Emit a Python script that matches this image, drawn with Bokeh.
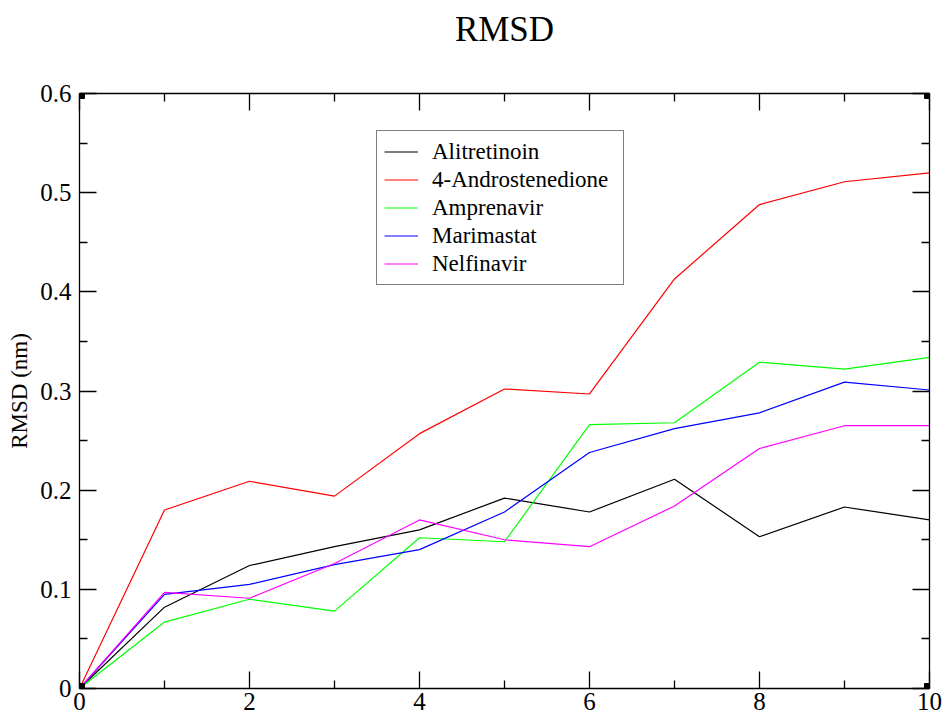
from bokeh.plotting import figure
from bokeh.models import (LinearAxis, FixedTicker, CustomJSTickFormatter, Legend, LegendItem,
                          ColumnDataSource, Range1d, Title)
from bokeh.embed import file_html
from bokeh.resources import INLINE

time_ns = [0, 1, 2, 3, 4, 5, 6, 7, 8, 9, 10]
alitretinoin = [0.0, 0.082, 0.124, 0.143, 0.160, 0.192, 0.178, 0.211, 0.153, 0.183, 0.170]
androstenedione = [0.0, 0.180, 0.209, 0.194, 0.257, 0.302, 0.297, 0.413, 0.488, 0.511, 0.520]
amprenavir = [0.0, 0.067, 0.090, 0.078, 0.152, 0.148, 0.266, 0.268, 0.329, 0.322, 0.334]
marimastat = [0.0, 0.095, 0.105, 0.125, 0.140, 0.178, 0.238, 0.262, 0.278, 0.309, 0.301]
nelfinavir = [0.0, 0.097, 0.091, 0.126, 0.170, 0.150, 0.143, 0.184, 0.242, 0.265, 0.265]

names = ["Alitretinoin", "4-Androstenedione", "Amprenavir", "Marimastat", "Nelfinavir"]
colors = ["#000000", "#ff0000", "#00ff00", "#0000ff", "#ff00ff"]
series = [alitretinoin, androstenedione, amprenavir, marimastat, nelfinavir]

x_major = [0, 2, 4, 6, 8, 10]
x_minor = [1, 3, 5, 7, 9]
y_major = [0.0, 0.1, 0.2, 0.3, 0.4, 0.5, 0.6]
y_minor = [0.05, 0.15, 0.25, 0.35, 0.45, 0.55]
corner_x = [0, 0, 10, 10]
corner_y = [0, 0.6, 0.6, 0]
title_text = "RMSD"

FONT = "Liberation Serif"

p = figure(width=943, height=713, output_backend="svg", toolbar_location=None,
           x_range=Range1d(0, 10), y_range=Range1d(0, 0.6),
           x_axis_type=None, y_axis_type=None,
           min_border_left=79, min_border_right=14, min_border_top=93, min_border_bottom=25)
p.background_fill_color = "white"
p.border_fill_color = "white"
p.outline_line_color = None
p.xgrid.visible = False
p.ygrid.visible = False

fmt = CustomJSTickFormatter(code="var s = tick.toFixed(1); return s.replace(/\\.0$/, '');")
blank = CustomJSTickFormatter(code="return '';")

def style_axis(ax):
    ax.axis_line_color = "#000000"
    ax.axis_line_width = 1.3
    ax.major_tick_line_color = "#000000"
    ax.minor_tick_line_color = "#000000"
    ax.major_tick_line_width = 1.3
    ax.minor_tick_line_width = 1.3
    ax.major_tick_in = 17
    ax.major_tick_out = 0
    ax.minor_tick_in = 8
    ax.minor_tick_out = 0
    ax.major_label_text_font = FONT
    ax.major_label_text_font_size = "25px"
    ax.major_label_text_color = "#000000"
    ax.axis_label_text_font = FONT
    ax.axis_label_text_font_style = "normal"
    ax.axis_label_text_color = "#000000"

xt = FixedTicker(ticks=x_major, minor_ticks=x_minor)
yt = FixedTicker(ticks=y_major, minor_ticks=y_minor)

xb = LinearAxis(ticker=xt, formatter=fmt)
style_axis(xb)
xb.major_label_standoff = 4
p.add_layout(xb, "below")

xa = LinearAxis(ticker=xt, formatter=blank)
style_axis(xa)
xa.major_label_standoff = 0
p.add_layout(xa, "above")

# invisible spacer between the top axis and the title
spacer = LinearAxis(ticker=FixedTicker(ticks=x_major, minor_ticks=[]), formatter=blank)
spacer.axis_line_color = None
spacer.major_tick_line_color = None
spacer.minor_tick_line_color = None
spacer.major_tick_in = 0
spacer.major_tick_out = 40
spacer.minor_tick_in = 0
spacer.minor_tick_out = 0
spacer.major_label_standoff = 0
p.add_layout(spacer, "above")

t = Title(text=title_text, align="center", text_font=FONT,
          text_font_size="35px", text_font_style="normal", text_color="#000000", standoff=10)
p.add_layout(t, "above")

yl = LinearAxis(ticker=yt, formatter=fmt, axis_label="RMSD (nm)")
style_axis(yl)
yl.major_label_standoff = 8
yl.axis_label_text_font_size = "23px"
yl.axis_label_standoff = 5
p.add_layout(yl, "left")

yr = LinearAxis(ticker=yt, formatter=blank)
style_axis(yr)
yr.major_label_standoff = 0
p.add_layout(yr, "right")

items = []
for name, col, ys in zip(names, colors, series):
    src = ColumnDataSource(dict(x=time_ns, y=ys))
    r = p.line("x", "y", source=src, line_color=col, line_width=1.2)
    items.append(LegendItem(label=name, renderers=[r]))

p.scatter(corner_x, corner_y, marker="square", size=10, fill_color="black", line_color="black")

legend = Legend(items=items, location=(297, 403), orientation="vertical")
legend.label_text_font = FONT
legend.label_text_font_size = "23px"
legend.label_text_color = "#000000"
legend.glyph_width = 34
legend.glyph_height = 27
legend.label_height = 27
legend.label_width = 184
legend.label_standoff = 14
legend.spacing = 1
legend.padding = 7
legend.margin = 0
legend.border_line_color = "#000000"
legend.border_line_width = 1.3
legend.background_fill_color = "white"
legend.background_fill_alpha = 1.0
p.add_layout(legend, "center")

open("out.html", "w").write(file_html(p, INLINE))
